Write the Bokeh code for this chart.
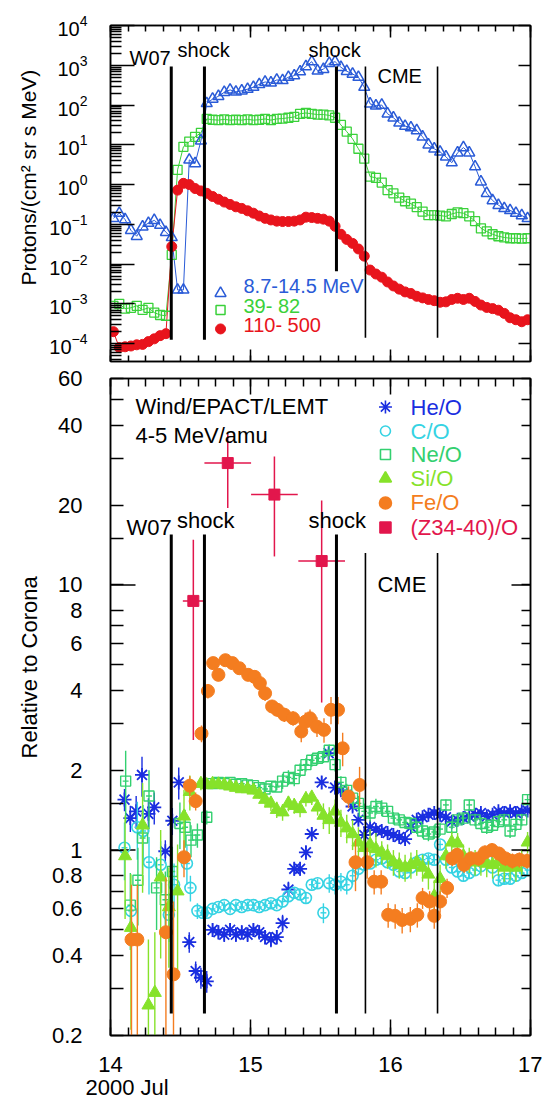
import numpy as np
from bokeh.embed import file_html
from bokeh.layouts import column
from bokeh.models import (CustomJSTickFormatter, FixedTicker, Label, LinearAxis,
                          LogAxis, LogTickFormatter, Range1d, Title)
from bokeh.plotting import figure
from bokeh.resources import INLINE

FONT = "Liberation Sans"

# ------------------------------------------------------------------
# GOES proton channels: hourly averages, hours after 2000-07-14 00:00 UT,
# values are log10 of the flux in protons/(cm2 sr s MeV)
# ------------------------------------------------------------------
goes_hours = np.arange(72) + 0.5
goes_8_14_log = [
    -0.85, -0.72, -0.88, -1.15, -1.30, -1.06, -0.97, -0.90, -1.02, -1.20,
    -1.33, -2.65, -2.65, 0.62, 0.53, 1.10, 2.04, 2.15, 2.22, 2.32,
    2.38, 2.33, 2.36, 2.40, 2.45, 2.52, 2.58, 2.56, 2.63, 2.62,
    2.70, 2.74, 2.84, 2.97, 3.09, 2.86, 2.90, 3.05, 3.09, 2.95,
    2.85, 2.78, 2.70, 2.45, 2.03, 1.98, 2.00, 1.78, 1.68, 1.55,
    1.47, 1.43, 1.36, 1.20, 1.00, 0.90, 0.82, 0.70, 0.55, 0.80,
    0.93, 0.80, 0.45, 0.07, -0.22, -0.40, -0.52, -0.60, -0.65, -0.72,
    -0.78, -0.85]
goes_39_82_log = [
    -3.05, -3.00, -3.12, -3.10, -3.05, -3.15, -3.10, -3.22, -3.28, -3.30,
    -1.77, 0.37, 0.95, 1.08, 1.20, 1.30, 1.65, 1.63, 1.62, 1.64,
    1.62, 1.63, 1.62, 1.64, 1.62, 1.63, 1.65, 1.62, 1.65, 1.66,
    1.68, 1.70, 1.78, 1.80, 1.78, 1.76, 1.76, 1.74, 1.68, 1.50,
    1.33, 1.15, 0.90, 0.65, 0.20, 0.17, 0.05, -0.14, -0.22, -0.33,
    -0.42, -0.48, -0.57, -0.68, -0.77, -0.77, -0.78, -0.80, -0.74, -0.70,
    -0.72, -0.80, -0.92, -1.10, -1.18, -1.25, -1.30, -1.33, -1.35, -1.35,
    -1.36, -1.35]
goes_110_500_log = [
    -3.70, -4.10, -4.08, -4.06, -4.03, -4.02, -3.95, -3.88, -3.80, -3.75,
    -1.56, -0.14, 0.03, 0.00, -0.10, -0.16, -0.22, -0.30, -0.37, -0.44,
    -0.50, -0.56, -0.60, -0.66, -0.72, -0.79, -0.85, -0.89, -0.92, -0.93,
    -0.93, -0.92, -0.89, -0.82, -0.83, -0.85, -0.87, -0.92, -1.05, -1.25,
    -1.38, -1.48, -1.62, -1.80, -2.15, -2.25, -2.33, -2.45, -2.55, -2.63,
    -2.70, -2.74, -2.81, -2.85, -2.89, -2.92, -2.96, -2.95, -2.89, -2.86,
    -2.89, -2.86, -2.94, -3.03, -3.09, -3.12, -3.16, -3.24, -3.35, -3.40,
    -3.45, -3.40]
goes_labels = ["8.7-14.5 MeV", " 39- 82", "110- 500"]

# ------------------------------------------------------------------
# Event times, day of July 2000
# ------------------------------------------------------------------
event_labels = ["W07", "shock", "shock", "CME", "CME"]
event_days = [14.434, 14.671, 15.614, 15.821, 16.336]

# ------------------------------------------------------------------
# Wind/EPACT/LEMT abundance ratios relative to corona, 4-5 MeV/amu
# hours after 2000-07-14 00:00 UT, ratio and 1-sigma error
# ------------------------------------------------------------------
hourly = [h + 0.5 for h in range(16, 72)]

he_hours = [2.4, 3.4, 4.4, 5.4, 6.5, 7.5, 9.4, 10.6, 11.7, 13.5, 14.6, 15.5,
            16.5, 17.5, 18.5, 19.5, 20.5, 21.5, 22.5, 23.5, 24.5, 25.5,
            26.5, 27.5, 28.5, 29.5, 30.5, 31.5, 32.5, 33.5, 34.5, 36.2,
            37.4, 38.5, 39.5, 40.5, 41.5, 42.5, 43.5, 44.5, 45.5, 46.5,
            47.5, 48.5, 49.5, 50.5, 51.5, 52.5, 53.5, 54.5, 55.5, 56.5,
            57.5, 58.5, 59.5, 60.5, 61.5, 62.5, 63.5, 64.5, 65.5, 66.5,
            67.5, 68.5, 69.5, 70.5, 71.5]
he_ratio = [1.55, 1.32, 1.40, 1.92, 1.37, 1.45, 0.99, 1.29, 1.80, 0.45, 0.35, 0.33,
            0.32, 0.50, 0.49, 0.48, 0.50, 0.48, 0.49, 0.48, 0.50, 0.49,
            0.47, 0.46, 0.47, 0.53, 0.71, 0.85, 0.85, 0.98, 1.15, 1.80,
            2.32, 1.72, 1.68, 1.62, 1.46, 1.30, 1.14, 1.22, 1.19, 1.18,
            1.16, 1.14, 1.12, 1.10, 1.22, 1.30, 1.33, 1.36, 1.38, 1.36,
            1.33, 1.28, 1.30, 1.32, 1.34, 1.36, 1.38, 1.34, 1.36, 1.40,
            1.38, 1.40, 1.38, 1.40, 1.41]
he_err = [0.15, 0.15, 0.20, 0.33, 0.20, 0.20, 0.10, 0.15, 0.25, 0.04, 0.03, 0.03,
          0.03, 0.03, 0.03, 0.03, 0.03, 0.03, 0.03, 0.03, 0.03, 0.03,
          0.03, 0.03, 0.03, 0.04, 0.05, 0.05, 0.05, 0.06, 0.07, 0.10,
          0.12, 0.10, 0.08, 0.08, 0.07, 0.06, 0.05, 0.05, 0.05, 0.05,
          0.05, 0.05, 0.05, 0.05, 0.05, 0.05, 0.05, 0.05, 0.05, 0.05,
          0.05, 0.05, 0.05, 0.05, 0.05, 0.05, 0.05, 0.05, 0.05, 0.05,
          0.05, 0.05, 0.05, 0.05, 0.05]

co_hours = [2.4, 3.5, 4.6, 5.6, 6.6, 8.6, 10.0, 10.9, 13.1, 13.7, 14.9, 15.8] + hourly
co_ratio = [1.02, 0.59, 1.22, 1.18, 0.90, 0.88, 0.57, 0.74, 0.89, 0.72, 0.59, 0.58,
            0.58, 0.60, 0.61, 0.62, 0.60, 0.62, 0.61, 0.62, 0.62, 0.61,
            0.62, 0.63, 0.62, 0.64, 0.67, 0.69, 0.68, 0.66, 0.74, 0.75,
            0.58, 0.75, 0.74, 0.76, 0.74, 0.80, 0.85, 0.88, 0.89, 0.92,
            0.93, 0.90, 0.88, 0.83, 0.82, 0.86, 0.90, 0.92, 0.93, 0.92,
            1.05, 0.92, 0.86, 0.83, 0.80, 0.82, 0.84, 0.87, 0.92, 0.86,
            0.77, 0.78, 0.78, 0.80, 0.82, 0.84]
co_err = [0.25, 0.15, 0.30, 0.30, 0.22, 0.20, 0.12, 0.15, 0.15, 0.08, 0.04, 0.03,
          0.02, 0.02, 0.02, 0.02, 0.02, 0.02, 0.02, 0.02, 0.02, 0.02,
          0.02, 0.02, 0.02, 0.02, 0.03, 0.03, 0.03, 0.03, 0.03, 0.03,
          0.05, 0.06, 0.06, 0.06, 0.06, 0.06, 0.05, 0.04, 0.04, 0.04,
          0.04, 0.04, 0.04, 0.04, 0.04, 0.04, 0.04, 0.04, 0.04, 0.04,
          0.04, 0.04, 0.04, 0.04, 0.04, 0.04, 0.04, 0.04, 0.04, 0.04,
          0.04, 0.04, 0.04, 0.04, 0.04, 0.04]

ne_hours = [2.6, 3.4, 4.7, 5.5, 6.6, 7.9, 9.4, 10.6, 11.9, 12.8, 13.8, 14.9] + hourly
ne_ratio = [1.82, 0.62, 0.77, 1.11, 1.60, 0.72, 0.65, 0.83, 1.26, 1.22, 1.09, 1.14,
            1.33, 1.78, 1.80, 1.78, 1.80, 1.77, 1.78, 1.76, 1.75, 1.72,
            1.70, 1.74, 1.73, 1.82, 1.88, 1.86, 2.00, 2.10, 2.18, 2.22,
            2.25, 2.38, 2.10, 1.80, 1.68, 1.57, 1.50, 1.40, 1.38, 1.46,
            1.44, 1.40, 1.32, 1.30, 1.27, 1.26, 1.22, 1.18, 1.15, 1.17,
            1.20, 1.48, 1.22, 1.30, 1.32, 1.48, 1.30, 1.26, 1.22, 1.24,
            1.28, 1.30, 1.18, 1.25, 1.30, 1.55]
ne_err = [0.55, 0.20, 0.25, 0.30, 0.40, 0.22, 0.18, 0.20, 0.25, 0.20, 0.15, 0.12,
          0.08, 0.05, 0.05, 0.05, 0.05, 0.05, 0.05, 0.05, 0.05, 0.05,
          0.05, 0.05, 0.05, 0.12, 0.12, 0.12, 0.12, 0.12, 0.12, 0.12,
          0.12, 0.12, 0.12, 0.10, 0.10, 0.10, 0.10, 0.10, 0.10, 0.10,
          0.10, 0.07, 0.07, 0.07, 0.07, 0.07, 0.07, 0.07, 0.07, 0.07,
          0.07, 0.07, 0.07, 0.07, 0.07, 0.07, 0.07, 0.07, 0.07, 0.07,
          0.07, 0.07, 0.07, 0.07, 0.07, 0.07]

si_hours = [2.5, 3.5, 5.5, 6.5, 7.6, 8.6, 10.0, 11.5, 12.6, 13.6, 15.5] + hourly
si_ratio = [0.95, 0.51, 1.24, 0.26, 0.29, 0.79, 0.61, 0.70, 1.34, 1.66, 1.78,
            1.76, 1.78, 1.77, 1.76, 1.74, 1.72, 1.70, 1.70, 1.68, 1.62,
            1.55, 1.50, 1.42, 1.39, 1.50, 1.47, 1.43, 1.56, 1.58, 1.45,
            1.35, 1.30, 1.40, 1.27, 1.21, 1.15, 1.07, 1.02, 1.05, 1.01,
            0.98, 0.95, 0.90, 0.88, 0.86, 0.88, 0.90, 0.86, 0.81, 0.67,
            0.78, 0.95, 1.07, 1.06, 0.95, 0.92, 0.90, 0.90, 0.89, 0.88,
            0.90, 0.86, 0.87, 0.86, 0.90, 1.07]
si_err = [0.40, 0.30, 0.55, 0.20, 0.20, 0.40, 0.25, 0.35, 0.35, 0.25, 0.10,
          0.06, 0.06, 0.06, 0.06, 0.06, 0.06, 0.06, 0.06, 0.06, 0.06,
          0.10, 0.10, 0.10, 0.10, 0.10, 0.10, 0.10, 0.10, 0.10, 0.10,
          0.15, 0.15, 0.15, 0.15, 0.15, 0.15, 0.15, 0.15, 0.15, 0.15,
          0.10, 0.10, 0.10, 0.10, 0.10, 0.10, 0.10, 0.10, 0.10, 0.10,
          0.10, 0.10, 0.10, 0.10, 0.10, 0.10, 0.10, 0.10, 0.10, 0.10,
          0.10, 0.10, 0.10, 0.10, 0.10, 0.10]

fe_hours = [3.6, 4.6, 9.5, 10.8, 12.6, 13.6, 14.6, 15.6,
            16.7, 17.6, 18.5, 19.7, 20.9, 22.1, 23.6, 24.7, 25.6, 26.5,
            27.7, 28.6, 29.8, 31.3, 32.7, 33.4, 34.2, 35.4, 36.6, 37.8,
            39.0, 39.8, 40.8, 42.0, 42.7, 44.0, 45.2, 46.4, 47.6, 48.8,
            50.0, 51.4, 52.6, 53.5, 54.7, 55.5, 56.5, 57.7, 58.6, 59.4,
            60.6, 61.8, 63.1, 64.2, 65.4, 66.6, 67.7, 68.9, 70.1, 71.4]
fe_ratio = [0.46, 0.46, 0.49, 0.34, 0.94, 1.75, 1.53, 2.75,
            3.98, 5.07, 4.58, 5.20, 5.07, 4.85, 4.58, 4.50, 4.26, 3.90,
            3.48, 3.38, 3.24, 3.14, 2.80, 3.05, 3.14, 2.92, 2.84, 3.38,
            3.38, 2.42, 1.59, 0.90, 1.76, 0.90, 0.76, 0.76, 0.57, 0.565,
            0.545, 0.55, 0.57, 0.66, 0.64, 0.565, 0.64, 0.72, 0.93, 0.96,
            0.88, 0.93, 0.93, 0.98, 1.00, 0.97, 0.93, 0.91, 0.92, 0.91]
fe_err = [0.28, 0.28, 0.30, 0.30, 0.15, 0.15, 0.12, 0.20,
          0.25, 0.25, 0.25, 0.25, 0.25, 0.25, 0.25, 0.25, 0.25, 0.25,
          0.20, 0.20, 0.20, 0.20, 0.25, 0.25, 0.25, 0.25, 0.30, 0.40,
          0.40, 0.35, 0.15, 0.20, 0.30, 0.12, 0.08, 0.08, 0.06, 0.06,
          0.06, 0.06, 0.06, 0.06, 0.06, 0.06, 0.06, 0.06, 0.06, 0.06,
          0.06, 0.06, 0.06, 0.06, 0.06, 0.06, 0.06, 0.06, 0.06, 0.06]

# (Z34-40)/O: accumulation intervals with asymmetric limits
z_hours = [14.2, 20.1, 28.1, 36.2]
z_half_width = [1.8, 4.0, 4.0, 4.0]
z_ratio = [8.7, 28.8, 21.9, 12.3]
z_low = [2.6, 19.5, 12.8, 3.6]
z_high = [14.8, 37.0, 30.5, 20.8]

ion_labels = ["He/O", "C/O", "Ne/O", "Si/O", "Fe/O", "(Z34-40)/O"]

# axis ticks
day_ticks = [14, 15, 16, 17]
flux_decades = [10.0 ** e for e in range(-4, 5)]
ratio_tick_labels = [0.2, 0.4, 0.6, 0.8, 1, 2, 4, 6, 8, 10, 20, 40, 60]
ratio_plain_ticks = [0.3, 0.5, 0.7, 1.5, 3, 5, 7, 15, 30, 50]
ratio_long_ticks = [1, 10]

# ------------------------------------------------------------------
# colours
# ------------------------------------------------------------------
C_P1, C_P2, C_P3 = "#2a5bd7", "#3ad13a", "#e8141c"
C_HE, C_C, C_NE, C_SI, C_FE, C_Z = ("#1a2ee0", "#36d3e3", "#33d070",
                                    "#86e22a", "#f47d20", "#e2164c")


def to_day(hours):
    return 14.0 + np.asarray(hours, dtype=float) / 24.0


def style_axis(ax, major_in, minor_in):
    ax.axis_line_color = "black"
    ax.axis_line_width = 1.5
    ax.major_tick_in = major_in
    ax.major_tick_out = 0
    ax.minor_tick_in = minor_in
    ax.minor_tick_out = 0
    ax.major_tick_line_color = "black"
    ax.minor_tick_line_color = "black"
    ax.major_tick_line_width = 1.5
    ax.minor_tick_line_width = 1.5


def hide_labels(ax):
    # keep the tick marks, paint no tick labels
    ax.major_label_text_font_size = "1px"
    ax.major_label_text_color = None
    ax.major_label_standoff = 0


def add_time_axes(p, major_in, minor_in, labelled):
    minor = list(np.arange(14.0, 17.001, 0.125))
    for loc in ("below", "above"):
        ax = LinearAxis(ticker=FixedTicker(ticks=day_ticks, minor_ticks=minor))
        style_axis(ax, major_in, minor_in)
        if labelled and loc == "below":
            ax.major_label_text_font = FONT
            ax.major_label_text_font_size = "22px"
            ax.major_label_text_color = "black"
            ax.major_label_standoff = 21
        else:
            hide_labels(ax)
        p.add_layout(ax, loc)


def note(p, x, y, text, size, color="black", align="left"):
    p.add_layout(Label(x=float(x), y=float(y), text=text, text_font=FONT,
                       text_font_size=size, text_color=color, text_align=align,
                       text_baseline="middle"))


def side_title(p, text, size, side, offset, standoff, valign="bottom"):
    p.add_layout(Title(text=text, align="left", offset=offset, standoff=standoff,
                       vertical_align=valign, text_font=FONT, text_font_size=size,
                       text_font_style="normal", text_color="black"), side)


def new_panel(height, y_range, top, bottom):
    p = figure(width=542, height=height, x_range=Range1d(14, 17), y_range=y_range,
               y_axis_type="log", x_axis_location=None, y_axis_location=None,
               output_backend="svg", toolbar_location=None,
               min_border_left=110, min_border_right=12,
               min_border_top=top, min_border_bottom=bottom)
    p.xgrid.visible = False
    p.ygrid.visible = False
    p.outline_line_color = "black"
    p.outline_line_width = 1.5
    p.background_fill_color = "white"
    p.border_fill_color = "white"
    return p


# ==================================================================
# Upper panel: GOES protons
# ==================================================================
p1 = new_panel(363, Range1d(10 ** -4.45, 1.0001e4), 25, 2)

left = LogAxis(ticker=FixedTicker(
    ticks=flux_decades,
    minor_ticks=[m * 10.0 ** e for e in range(-5, 4) for m in range(2, 10)]),
    formatter=LogTickFormatter())
style_axis(left, 24, 11)
left.major_label_text_font = FONT
left.major_label_text_font_size = "20px"
left.major_label_text_color = "black"
left.major_label_standoff = 23
p1.add_layout(left, "left")
side_title(p1, "Protons/(cm\u00b2 sr s MeV)", "21px", "left", 76, 14)

right = LogAxis(ticker=FixedTicker(ticks=[], minor_ticks=flux_decades))
style_axis(right, 12, 12)
hide_labels(right)
p1.add_layout(right, "right")
add_time_axes(p1, 12, 6, False)

gx = to_day(goes_hours)
for vals, col in ((goes_8_14_log, C_P1), (goes_39_82_log, C_P2), (goes_110_500_log, C_P3)):
    p1.line(gx, 10.0 ** np.asarray(vals), line_color=col, line_width=1)
p1.scatter(gx, 10.0 ** np.asarray(goes_39_82_log), marker="square", size=9,
           fill_color=None, line_color=C_P2, line_width=1.3)
p1.scatter(gx, 10.0 ** np.asarray(goes_8_14_log), marker="triangle", size=11,
           fill_color=None, line_color=C_P1, line_width=1.5)
p1.scatter(gx, 10.0 ** np.asarray(goes_110_500_log), marker="circle", size=10,
           fill_color=C_P3, line_color=C_P3)

# event lines
top_lo = [10 ** -3.9, 10 ** -3.9, 10 ** -2.18, 10 ** -3.85, 10 ** -3.85]
p1.segment(event_days, top_lo, event_days, [10 ** 2.97] * 5,
           line_color="black", line_width=[3, 3, 3, 1.6, 1.6])

# legend
goes_leg_marker_y = [10 ** -2.734, 10 ** -3.153, 10 ** -3.631]
goes_leg_text_y = [10 ** -2.558, 10 ** -3.06, 10 ** -3.538]
for lab, col, mk, my, ty in zip(goes_labels, (C_P1, C_P2, C_P3),
                                ("triangle", "square", "circle"),
                                goes_leg_marker_y, goes_leg_text_y):
    if mk == "circle":
        p1.scatter([14.786], [my], marker=mk, size=10, fill_color=col, line_color=col)
    else:
        p1.scatter([14.786], [my], marker=mk, size=11 if mk == "triangle" else 9,
                   fill_color=None, line_color=col, line_width=1.5)
    note(p1, 14.95, ty, lab, "20px", col)

note(p1, 14.179, 10 ** 4.276, "NOAA/GOES protons", "20px")
note(p1, 14.136, 10 ** 3.171, event_labels[0], "20px")
note(p1, 14.479, 10 ** 3.372, event_labels[1], "20px")
note(p1, 15.414, 10 ** 3.372, event_labels[2], "20px")
note(p1, 15.907, 10 ** 2.719, event_labels[3], "20px")

# ==================================================================
# Lower panel: abundance ratios
# ==================================================================
p2 = new_panel(742, Range1d(0.1999, 60.01), 15, 70)

fmt = CustomJSTickFormatter(code="return String(tick);")
left2 = LogAxis(ticker=FixedTicker(ticks=ratio_tick_labels, minor_ticks=ratio_plain_ticks),
                formatter=fmt)
style_axis(left2, 13, 13)
left2.major_label_text_font = FONT
left2.major_label_text_font_size = "22px"
left2.major_label_text_color = "black"
left2.major_label_standoff = 28
p2.add_layout(left2, "left")
side_title(p2, "Relative to Corona", "22px", "left", 277, 14)

right2 = LogAxis(ticker=FixedTicker(ticks=[], minor_ticks=ratio_tick_labels + ratio_plain_ticks))
style_axis(right2, 9, 9)
hide_labels(right2)
p2.add_layout(right2, "right")
add_time_axes(p2, 16, 8, True)
side_title(p2, "2000 Jul", "22px", "below", -25, 0, valign="top")

# longer marks at 1 and 10 on both ratio axes
p2.segment([14.0] * 2, ratio_long_ticks, [14.0 + 25 / 140] * 2, ratio_long_ticks,
           line_color="black", line_width=1.5)
p2.segment([17.0 - 19 / 140] * 2, ratio_long_ticks, [17.0] * 2, ratio_long_ticks,
           line_color="black", line_width=1.5)


def ion_series(hours, ratio, err, marker, color, size, filled, lw):
    h = np.asarray(hours, dtype=float)
    r = np.asarray(ratio, dtype=float)
    e = np.asarray(err, dtype=float)
    x = to_day(h)
    p2.segment(x, np.clip(r - e, 0.05, None), x, r + e, line_color=color, line_width=1.4)
    p2.segment(to_day(h - 0.5), r, to_day(h + 0.5), r, line_color=color, line_width=1.4)
    p2.scatter(x, r, marker=marker, size=size,
               fill_color=color if filled else None, line_color=color, line_width=lw)


ion_series(he_hours, he_ratio, he_err, "asterisk", C_HE, 14, False, 1.8)
ion_series(co_hours, co_ratio, co_err, "circle", C_C, 11, False, 1.6)
ion_series(ne_hours, ne_ratio, ne_err, "square", C_NE, 10, False, 1.4)
ion_series(si_hours, si_ratio, si_err, "triangle", C_SI, 13, True, 1.0)
ion_series(fe_hours, fe_ratio, fe_err, "circle", C_FE, 13, True, 1.0)

zh = np.asarray(z_hours)
zw = np.asarray(z_half_width)
zx = to_day(zh)
p2.segment(zx, z_low, zx, z_high, line_color=C_Z, line_width=1.5)
p2.segment(to_day(zh - zw), z_ratio, to_day(zh + zw), z_ratio, line_color=C_Z, line_width=1.5)
p2.scatter(zx, z_ratio, marker="square", size=11, fill_color=C_Z, line_color=C_Z)

# event lines
p2.segment(event_days, [0.242] * 5, event_days, [15.5, 15.5, 15.5, 13.2, 13.2],
           line_color="black", line_width=[3, 3, 3, 1.6, 1.6])

# legend
leg_y = [46.85, 38.04, 31.02, 25.18, 20.36, 16.46]
leg_style = [("asterisk", C_HE, 13, False), ("circle", C_C, 10, False),
             ("square", C_NE, 10, False), ("triangle", C_SI, 12, True),
             ("circle", C_FE, 12, True), ("square", C_Z, 11, True)]
for lab, ly, (mk, col, sz, filled) in zip(ion_labels, leg_y, leg_style):
    p2.scatter([15.964], [ly], marker=mk, size=sz, fill_color=col if filled else None,
               line_color=col, line_width=1.6)
    note(p2, 16.143, ly, lab, "22px", col)

note(p2, 14.179, 47.06, "Wind/EPACT/LEMT", "22px")
note(p2, 14.179, 36.68, "4-5 MeV/amu", "22px")
note(p2, 14.114, 16.46, event_labels[0], "22px")
note(p2, 14.475, 17.54, event_labels[1], "22px")
note(p2, 15.414, 17.54, event_labels[2], "22px")
note(p2, 15.907, 10.0, event_labels[3], "22px")

layout = column(p1, p2, spacing=0)
open("out.html", "w").write(file_html(layout, INLINE, title="GOES protons and Wind/EPACT ratios"))
